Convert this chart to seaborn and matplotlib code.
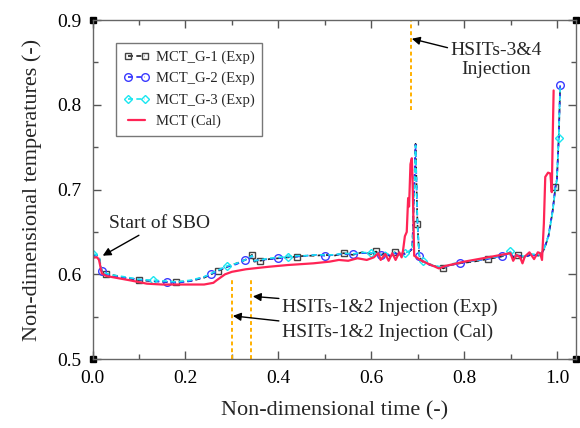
import numpy as np
import matplotlib
matplotlib.use('Agg')
import matplotlib.pyplot as plt
import seaborn as sns
from matplotlib.ticker import MultipleLocator

sns.set_style('ticks')
plt.rcParams['font.family'] = ['Liberation Serif', 'DejaVu Serif']

# experimental data (three thermocouples, nearly on top of each other)
exp_time = [0.000, 0.010, 0.015, 0.020, 0.030, 0.045, 0.070, 0.100, 0.130, 0.160,
            0.180, 0.210, 0.240, 0.255, 0.270, 0.290, 0.310, 0.328, 0.338, 0.343,
            0.348, 0.360, 0.380, 0.400, 0.420, 0.440, 0.460, 0.480, 0.500, 0.520,
            0.540, 0.560, 0.580, 0.600, 0.610, 0.620, 0.630, 0.640, 0.650, 0.660,
            0.672, 0.680, 0.688, 0.692, 0.695, 0.699, 0.703, 0.710, 0.725, 0.740,
            0.755, 0.770, 0.790, 0.820, 0.850, 0.880, 0.899, 0.905, 0.915, 0.930,
            0.945, 0.960, 0.966, 0.972, 0.981, 0.990, 0.996, 0.999, 1.003, 1.006]
g1_temp = [0.622, 0.622, 0.618, 0.603, 0.600, 0.599, 0.596, 0.593, 0.592, 0.591,
           0.591, 0.592, 0.596, 0.600, 0.604, 0.609, 0.613, 0.617, 0.620, 0.623,
           0.615, 0.616, 0.618, 0.619, 0.620, 0.621, 0.622, 0.622, 0.623, 0.622,
           0.625, 0.623, 0.626, 0.624, 0.627, 0.622, 0.626, 0.621, 0.626, 0.622,
           0.625, 0.626, 0.630, 0.700, 0.754, 0.660, 0.621, 0.615, 0.612, 0.609,
           0.607, 0.611, 0.613, 0.615, 0.618, 0.621, 0.626, 0.620, 0.623, 0.620,
           0.624, 0.622, 0.625, 0.630, 0.645, 0.675, 0.703, 0.711, 0.760, 0.821]
g2_temp = [0.622, 0.622, 0.617, 0.604, 0.600, 0.598, 0.596, 0.594, 0.592, 0.591,
           0.590, 0.592, 0.597, 0.600, 0.605, 0.609, 0.612, 0.617, 0.619, 0.622,
           0.616, 0.617, 0.618, 0.619, 0.621, 0.621, 0.622, 0.623, 0.622, 0.623,
           0.624, 0.624, 0.625, 0.625, 0.626, 0.623, 0.625, 0.622, 0.625, 0.623,
           0.624, 0.626, 0.631, 0.701, 0.753, 0.662, 0.622, 0.616, 0.611, 0.609,
           0.608, 0.611, 0.613, 0.616, 0.618, 0.622, 0.625, 0.621, 0.622, 0.621,
           0.623, 0.622, 0.624, 0.631, 0.646, 0.676, 0.704, 0.712, 0.762, 0.823]
g3_temp = [0.624, 0.623, 0.619, 0.604, 0.601, 0.599, 0.597, 0.594, 0.593, 0.592,
           0.591, 0.593, 0.597, 0.601, 0.605, 0.610, 0.613, 0.617, 0.620, 0.622,
           0.616, 0.617, 0.619, 0.620, 0.621, 0.622, 0.622, 0.623, 0.623, 0.623,
           0.625, 0.624, 0.626, 0.625, 0.627, 0.623, 0.626, 0.622, 0.626, 0.623,
           0.625, 0.627, 0.631, 0.699, 0.752, 0.661, 0.622, 0.616, 0.612, 0.610,
           0.608, 0.612, 0.614, 0.616, 0.619, 0.622, 0.627, 0.621, 0.623, 0.621,
           0.624, 0.623, 0.625, 0.631, 0.645, 0.674, 0.702, 0.711, 0.761, 0.822]

# calculation
cal_time = [0.000, 0.010, 0.014, 0.020, 0.030, 0.050, 0.080, 0.117, 0.150, 0.200,
            0.240, 0.260, 0.267, 0.285, 0.300, 0.310, 0.330, 0.346, 0.380, 0.420,
            0.475, 0.510, 0.530, 0.550, 0.570, 0.590, 0.605, 0.615, 0.620, 0.630,
            0.637, 0.645, 0.652, 0.660, 0.665, 0.668, 0.672, 0.676, 0.679, 0.681,
            0.684, 0.687, 0.689, 0.692, 0.700, 0.705, 0.720, 0.737, 0.745, 0.760,
            0.800, 0.850, 0.899, 0.905, 0.912, 0.920, 0.925, 0.930, 0.940, 0.950,
            0.958, 0.963, 0.967, 0.971, 0.974, 0.980, 0.985, 0.988, 0.990, 0.992]
cal_temp = [0.620, 0.620, 0.617, 0.601, 0.598, 0.596, 0.593, 0.589, 0.588, 0.588,
            0.588, 0.590, 0.593, 0.600, 0.603, 0.604, 0.606, 0.607, 0.609, 0.611,
            0.613, 0.615, 0.617, 0.616, 0.619, 0.617, 0.620, 0.625, 0.617, 0.624,
            0.616, 0.625, 0.617, 0.626, 0.620, 0.628, 0.645, 0.650, 0.690, 0.680,
            0.730, 0.737, 0.700, 0.622, 0.619, 0.617, 0.613, 0.609, 0.607, 0.610,
            0.615, 0.620, 0.625, 0.616, 0.623, 0.620, 0.613, 0.621, 0.626, 0.618,
            0.626, 0.625, 0.617, 0.660, 0.715, 0.720, 0.719, 0.697, 0.760, 0.817]

# injection times
inj_cal = 0.300
inj_exp = 0.342
inj_34 = 0.686

# which samples carry a symbol
g1_marks = [4, 7, 10, 14, 19, 21, 25, 30, 34, 38, 45, 50, 54, 58, 66]
g2_marks = [3, 9, 13, 17, 23, 28, 31, 35, 46, 52, 55, 69]
g3_marks = [0, 8, 15, 24, 33, 40, 47, 56, 68]

fig, ax = plt.subplots(figsize=(5.8, 4.28), dpi=100)
fig.subplots_adjust(left=0.1595, right=0.993, bottom=0.161, top=0.953)

sns.lineplot(x=exp_time, y=g1_temp, ax=ax, sort=False, estimator=None,
             color='#222222', linestyle=(0, (3, 2)), lw=1.2, marker='s', ms=4,
             mfc='none', mec='#444444', mew=1, markevery=g1_marks,
             label='MCT_G-1 (Exp)')
sns.lineplot(x=exp_time, y=g2_temp, ax=ax, sort=False, estimator=None,
             color='#2b2bff', linestyle=(0, (3, 2)), lw=1.2, marker='o', ms=5.5,
             mfc='none', mec='#3a3aff', mew=1, markevery=g2_marks,
             label='MCT_G-2 (Exp)')
sns.lineplot(x=exp_time, y=g3_temp, ax=ax, sort=False, estimator=None,
             color='#19e6f0', linestyle=(0, (3, 2)), lw=1.2, marker='D', ms=4.5,
             mfc='none', mec='#19e6f0', mew=1, markevery=g3_marks,
             label='MCT_G-3 (Exp)')
sns.lineplot(x=cal_time, y=cal_temp, ax=ax, sort=False, estimator=None,
             color='#ff2455', lw=1.6, label='MCT (Cal)')

# injection markers
orange = '#ffb000'
ax.plot([inj_cal, inj_cal], [0.5, 0.593], color=orange, lw=1.4, ls=(0, (2, 1.5)))
ax.plot([inj_exp, inj_exp], [0.5, 0.593], color=orange, lw=1.4, ls=(0, (2, 1.5)))
ax.plot([inj_34, inj_34], [0.794, 0.9], color=orange, lw=1.4, ls=(0, (2, 1.5)))

ax.set_xlim(0, 1.04)
ax.set_ylim(0.5, 0.9)
ax.xaxis.set_major_locator(MultipleLocator(0.2))
ax.xaxis.set_minor_locator(MultipleLocator(0.1))
ax.yaxis.set_major_locator(MultipleLocator(0.1))
ax.yaxis.set_minor_locator(MultipleLocator(0.05))
ax.xaxis.set_major_formatter(plt.FormatStrFormatter('%.1f'))
ax.yaxis.set_major_formatter(plt.FormatStrFormatter('%.1f'))
ax.tick_params(which='both', direction='in', top=True, right=True,
               colors='#555555', labelcolor='black', labelsize=14, pad=8)
ax.tick_params(which='major', length=6, width=1)
ax.tick_params(which='minor', length=3.5, width=1)
for sp in ax.spines.values():
    sp.set_color('#666666')
    sp.set_linewidth(1)

ax.set_xlabel('Non-dimensional time (-)', fontsize=16, labelpad=10)
ax.set_ylabel('Non-dimensional temperatures (-)', fontsize=16, labelpad=11)

# black squares at axes corners
ax.plot([0, 1, 0, 1], [0, 0, 1, 1], 's', color='black', ms=5,
        transform=ax.transAxes, clip_on=False)

arrow = dict(arrowstyle='-|>', color='black', lw=1, mutation_scale=12, shrinkA=0, shrinkB=0)
ax.annotate('Start of SBO', xy=(0.022, 0.622), xytext=(0.036, 0.660),
            fontsize=14, ha='left', va='center', arrowprops=arrow)
ax.annotate('HSITs-1&2 Injection (Exp)', xy=(0.345, 0.574), xytext=(0.408, 0.561),
            fontsize=14, ha='left', va='center', arrowprops=arrow)
ax.annotate('HSITs-1&2 Injection (Cal)', xy=(0.302, 0.551), xytext=(0.408, 0.531),
            fontsize=14, ha='left', va='center', arrowprops=arrow)
ax.annotate('HSITs-3&4\nInjection', xy=(0.687, 0.878), xytext=(0.869, 0.853),
            fontsize=14, ha='center', va='center', multialignment='center',
            linespacing=1.1, arrowprops=arrow)

leg = ax.legend(loc='upper left', bbox_to_anchor=(0.049, 0.932), fontsize=10.5,
                numpoints=2, handlelength=1.8, handletextpad=0.4, labelspacing=0.55,
                borderpad=0.5, borderaxespad=0, fancybox=False, framealpha=1,
                edgecolor='#777777')
leg.get_frame().set_linewidth(1)

plt.savefig('out.png', dpi=100)
